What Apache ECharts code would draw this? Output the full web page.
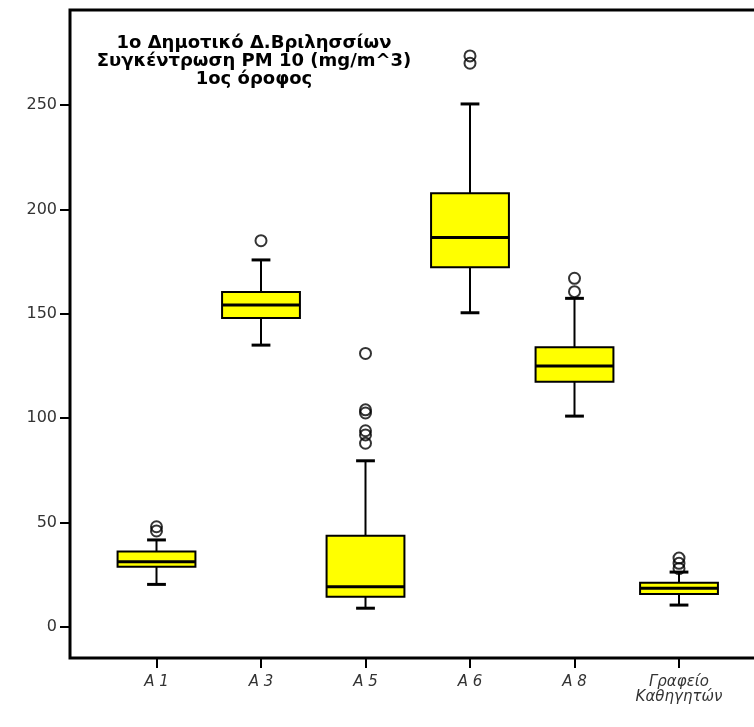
<!DOCTYPE html>
<html>
<head>
<meta charset="utf-8">
<script src="https://cdn.jsdelivr.net/npm/echarts@6/dist/echarts.min.js"></script>
<style>html,body{margin:0;padding:0;background:#fff}#c{width:754px;height:727px}</style>
</head>
<body>
<div id="c"></div>
<script>
const categories = ['A 1', 'A 3', 'A 5', 'A 6', 'A 8', 'Γραφείο\nΚαθηγητών'];
const whiskerLow = [20.4, 135, 9, 150.5, 101, 10.5];
const q1 = [28.9, 148, 14.5, 172.3, 117.5, 15.8];
const median = [31.3, 154.2, 19.3, 186.5, 125, 18.5];
const q3 = [36.1, 160.4, 43.7, 207.7, 134, 21.2];
const whiskerHigh = [41.7, 175.8, 79.6, 250.5, 157.4, 26.3];
const outlierValues = [
  [46, 48],
  [185],
  [131, 104, 102.5, 94, 92, 88],
  [273.5, 270],
  [167, 160.6],
  [33, 30.5, 28]
];
const yTicks = [0, 50, 100, 150, 200, 250];
const titleText = '1ο Δημοτικό Δ.Βριλησσίων\nΣυγκέντρωση PM 10 (mg/m^3)\n1ος όροφος';

const boxData = categories.map((c, i) => [i, whiskerLow[i], q1[i], median[i], q3[i], whiskerHigh[i]]);
const outlierData = [];
outlierValues.forEach((arr, i) => arr.forEach(v => outlierData.push([i, v])));

const chart = echarts.init(document.getElementById('c'));
chart.setOption({
  animation: false,
  backgroundColor: '#fff',
  graphic: [{
    type: 'text', x: 254, y: 34, z: 10,
    style: {
      text: titleText, fill: '#000', align: 'center', verticalAlign: 'top',
      font: 'bold 18px "DejaVu Sans", sans-serif', lineHeight: 18
    }
  }],
  grid: [
    { left: 104.25, right: 22.75, top: 10, bottom: 69, outerBoundsMode: 'none' },
    { left: 70, width: 900, top: 10, bottom: 69, outerBoundsMode: 'none', show: true, borderColor: '#000', borderWidth: 3, backgroundColor: 'transparent' }
  ],
  xAxis: [
    {
      type: 'category', data: categories, gridIndex: 0,
      axisLine: { show: false, onZero: false },
      axisTick: { show: true, alignWithLabel: true, length: 10, lineStyle: { color: '#000', width: 2 } },
      axisLabel: { margin: 17, color: '#333', fontStyle: 'italic', fontSize: 15, fontFamily: '"DejaVu Sans", sans-serif', lineHeight: 15, interval: 0 },
      splitLine: { show: false }
    },
    { type: 'value', gridIndex: 1, show: false }
  ],
  yAxis: [
    {
      type: 'value', gridIndex: 0, min: -14.85, max: 295.5, offset: 34.25,
      axisLine: { show: false, onZero: false },
      axisTick: { show: true, length: 10, customValues: yTicks, lineStyle: { color: '#000', width: 2 } },
      axisLabel: { customValues: yTicks, margin: 13, color: '#333', fontSize: 16, fontFamily: '"DejaVu Sans", sans-serif' },
      splitLine: { show: false }
    },
    { type: 'value', gridIndex: 1, show: false }
  ],
  series: [
    {
      type: 'custom', xAxisIndex: 0, yAxisIndex: 0, data: boxData,
      encode: { x: 0, y: [1, 2, 3, 4, 5] },
      renderItem: function (params, api) {
        const x = api.value(0);
        const lo = api.coord([x, api.value(1)]);
        const b1 = api.coord([x, api.value(2)]);
        const md = api.coord([x, api.value(3)]);
        const b3 = api.coord([x, api.value(4)]);
        const hi = api.coord([x, api.value(5)]);
        const band = api.size([1, 0])[0];
        const cx = lo[0];
        const boxW = band * 0.745;
        const capW = band * 0.18;
        const st = { stroke: '#000', lineWidth: 2 };
        return {
          type: 'group',
          children: [
            { type: 'line', shape: { x1: cx, y1: b3[1], x2: cx, y2: hi[1] }, style: st },
            { type: 'line', shape: { x1: cx, y1: b1[1], x2: cx, y2: lo[1] }, style: st },
            { type: 'line', shape: { x1: cx - capW / 2, y1: hi[1], x2: cx + capW / 2, y2: hi[1] }, style: { stroke: '#000', lineWidth: 3 } },
            { type: 'line', shape: { x1: cx - capW / 2, y1: lo[1], x2: cx + capW / 2, y2: lo[1] }, style: { stroke: '#000', lineWidth: 3 } },
            { type: 'rect', shape: { x: cx - boxW / 2, y: b3[1], width: boxW, height: b1[1] - b3[1] }, style: { fill: '#ffff00', stroke: '#000', lineWidth: 2 } },
            { type: 'line', shape: { x1: cx - boxW / 2, y1: md[1], x2: cx + boxW / 2, y2: md[1] }, style: { stroke: '#000', lineWidth: 3 } }
          ]
        };
      }
    },
    {
      type: 'scatter', xAxisIndex: 0, yAxisIndex: 0, data: outlierData, z: 5,
      symbol: 'circle', symbolSize: 11,
      itemStyle: { color: 'rgba(0,0,0,0)', borderColor: '#000', borderWidth: 2 }
    }
  ]
});
</script>
</body>
</html>
